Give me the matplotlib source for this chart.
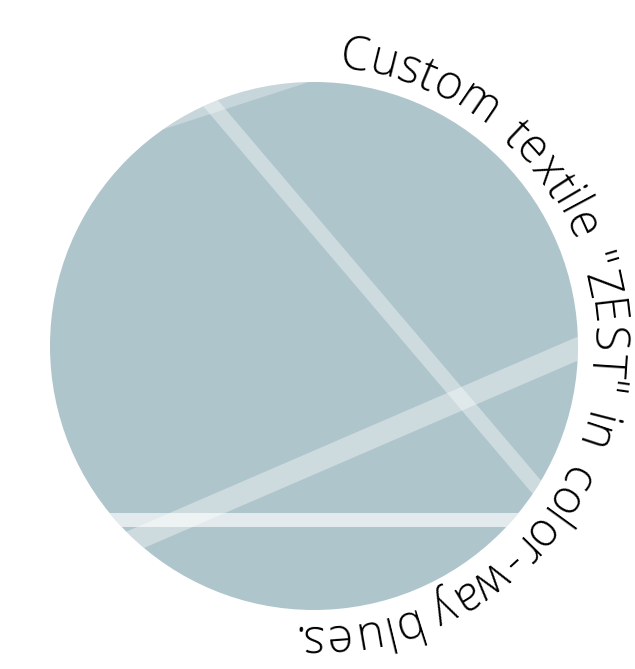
import numpy as np
import matplotlib.pyplot as plt
from matplotlib.patches import Circle
from matplotlib.font_manager import FontProperties, findfont, get_font

W, H = 635, 669
DPI = 100

# Disco (coordenadas en pixeles, y hacia abajo)
cx, cy, radio = 314, 346, 264
color_disco = "#afc5cc"

# Franjas blancas semitransparentes: linea central, ancho en px y opacidad
franja_x = [(60, 420), (150, 580), (100, 600), (40, 600)]
franja_y = [(155, 38), (32, 538), (555, 339), (520, 520)]
franja_ancho = [15, 15, 22, 14]
franja_alpha = [0.30, 0.38, 0.38, 0.65]

# Texto en arco
texto = 'Custom textile "ZEST" in color-way blues.'
radio_texto = 279
angulo_inicio = 5.0  # grados, sentido horario desde arriba
tam_fuente = 33.5
extra_espacio = 5.0  # px extra entre palabras
extra_letra = 0.2    # px extra entre letras

fig = plt.figure(figsize=(W / DPI, H / DPI), dpi=DPI)
ax = fig.add_axes([0, 0, 1, 1])
ax.set_xlim(0, W)
ax.set_ylim(H, 0)
ax.axis("off")

disco = Circle((cx, cy), radio, facecolor=color_disco, edgecolor="none")
ax.add_patch(disco)

for xs, ys, ancho, alpha in zip(franja_x, franja_y, franja_ancho, franja_alpha):
    linea, = ax.plot(xs, ys, color="white", alpha=alpha,
                     linewidth=ancho * 72 / DPI, solid_capstyle="butt")
    linea.set_clip_path(disco)

# Mide el avance de cada letra para repartirlas sobre el arco
fp = FontProperties(family="Open Sans", size=tam_fuente, weight="light")
font = get_font(findfont(fp))
font.set_size(tam_fuente, DPI)
avances = np.array([font.load_char(ord(c)).linearHoriAdvance / 65536 for c in texto])
avances += np.array([extra_espacio if c == " " else extra_letra for c in texto])
centros = np.cumsum(avances) - avances / 2

for c, s in zip(texto, centros):
    theta = np.radians(angulo_inicio) + s / radio_texto
    x = cx + radio_texto * np.sin(theta)
    y = cy - radio_texto * np.cos(theta)
    ax.text(x, y, c, fontproperties=fp, ha="center", va="baseline",
            rotation=-np.degrees(theta), rotation_mode="anchor", color="black")

fig.savefig("out.png", dpi=DPI)
